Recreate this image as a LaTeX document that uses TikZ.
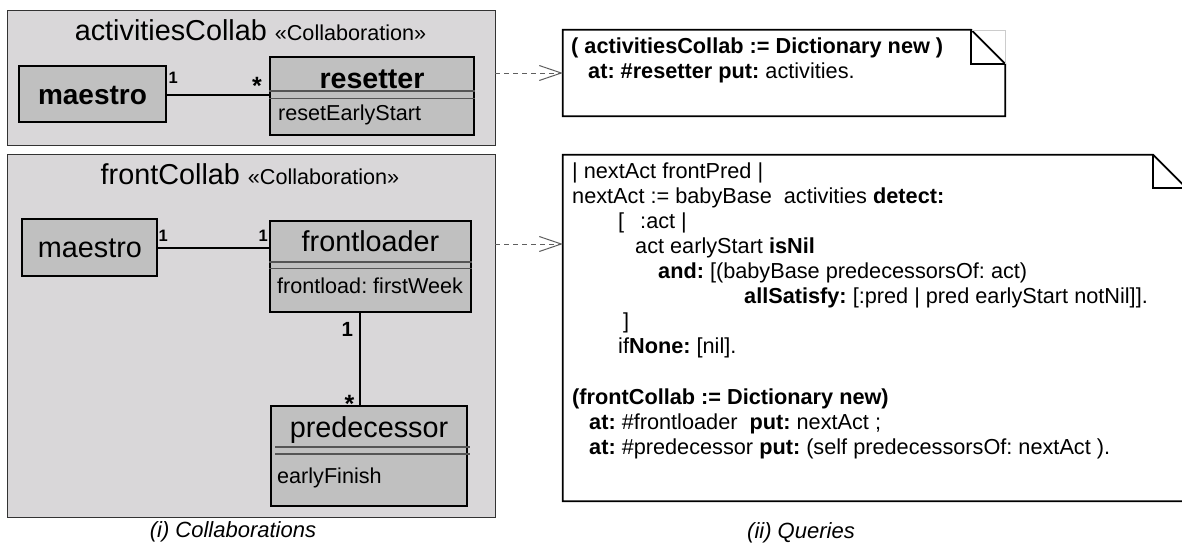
\documentclass[tikz,border=0pt]{standalone}
\usepackage{fontspec}
\setmainfont{Liberation Sans}
\usetikzlibrary{arrows.meta,calc}
\definecolor{collabbg}{RGB}{217,215,217}
\definecolor{classbg}{RGB}{192,192,192}
\definecolor{sepgray}{RGB}{85,85,85}
\definecolor{dashgray}{RGB}{95,95,95}
\newcommand{\fsz}[1]{\fontsize{#1}{#1}\selectfont}
\frenchspacing
\begin{document}
\begin{tikzpicture}[x=1pt,y=-1pt,
  collab/.style={draw=black!80, fill=collabbg, line width=0.9pt, inner sep=0pt, rectangle},
  cls/.style={draw=black, fill=classbg, line width=1.8pt, inner sep=0pt, rectangle},
  sepline/.style={draw=sepgray, line width=1.1pt},
  assoc/.style={draw=black, line width=1.8pt},
  notebox/.style={draw=black, fill=white, line width=1.8pt},
  notefold/.style={draw=black, line width=1.8pt},
  dep/.style={draw=dashgray, line width=1pt, dash pattern=on 5pt off 4pt, -{Straight Barb[length=22pt, width=15pt, line width=1pt]}},
  txt/.style={inner sep=0pt, anchor=base west},
  ctxt/.style={inner sep=0pt, anchor=base},
  nametxt/.style={ctxt, font=\fsz{28.8}},
  attrtxt/.style={txt, font=\fsz{21.6}},
  multtxt/.style={txt, font=\fsz{16.5}\bfseries},
  startxt/.style={txt, font=\fsz{25}\bfseries},
  notetxt/.style={txt, font=\fsz{21.7}},
  captxt/.style={ctxt, font=\fsz{22}\itshape}]
\clip (0,0) rectangle (1182,544);
\fill[white] (0,0) rectangle (1182,544);

% ---------- collaborations ----------
\node[collab, minimum width=488pt, minimum height=135pt] (c1) at (251,77.5) {};
\node[collab, minimum width=488pt, minimum height=363pt] (c2) at (251,335.5) {};

\node[ctxt] (t1) at (250.5,40) {{\fsz{28.8}activitiesCollab }{\fsz{21.6}«Collaboration»}};
\node[ctxt] (t2) at (250,184) {{\fsz{28.8}frontCollab }{\fsz{21.6}«Collaboration»}};

% top collaboration
\node[cls, minimum width=147pt, minimum height=56pt] (m1) at (92.5,94) {};
\node[cls, minimum width=204pt, minimum height=78pt] (r1) at (372,96) {};
\draw[sepline] (r1.west |- 0,91) -- (r1.east |- 0,91);
\draw[sepline] (r1.west |- 0,98.3) -- (r1.east |- 0,98.3);
\node[nametxt, font=\fsz{28}\bfseries] (m1t) at (92.5,104) {maestro};
\node[nametxt, font=\fsz{28.6}\bfseries] (r1t) at (372,88) {resetter};
\node[attrtxt] (r1a) at (278,120) {resetEarlyStart};
\draw[assoc] (m1.east |- 0,95) -- (r1.west |- 0,95);
\node[multtxt] (mu1) at (168.5,83.3) {1};
\node[startxt] (mu2) at (252,94.8) {*};

% bottom collaboration
\node[cls, minimum width=135pt, minimum height=57pt] (m2) at (89.5,247.5) {};
\node[cls, minimum width=201pt, minimum height=91pt] (fl) at (370.5,266.5) {};
\node[cls, minimum width=196pt, minimum height=100pt] (pd) at (369,456) {};
\draw[sepline] (fl.west |- 0,262) -- (fl.east |- 0,262);
\draw[sepline] (fl.west |- 0,268.5) -- (fl.east |- 0,268.5);
\draw[sepline] (275,447) -- (470,447);
\draw[sepline] (275,454) -- (470,454);
\node[nametxt] (m2t) at (90,257) {maestro};
\node[nametxt] (flt) at (370.5,251) {frontloader};
\node[attrtxt] (fla) at (277,293) {frontload: firstWeek};
\node[nametxt] (pdt) at (369,437.5) {predecessor};
\node[attrtxt] (pda) at (277,483) {earlyFinish};
\draw[assoc] (m2.east |- 0,248) -- (fl.west |- 0,248);
\draw[assoc] (fl.south -| 360,0) -- (pd.north -| 360,0);
\node[multtxt] (mu3) at (158.5,241.7) {1};
\node[multtxt] (mu4) at (258.3,241.7) {1};
\node[multtxt, font=\fsz{20.5}\bfseries] (mu5) at (341.5,336.7) {1};
\node[startxt] (mu6) at (344.5,412.5) {*};

% ---------- notes ----------
\node[inner sep=0pt, minimum width=442pt, minimum height=86pt] (n1) at (784,73) {};
\draw[notebox] (n1.north west) -- ($(n1.north east)+(-34,0)$) -- ($(n1.north east)+(0,34)$) -- (n1.south east) -- (n1.south west) -- cycle;
\draw[black!20, line width=0.6pt] ($(n1.north east)+(-34,0)$) -- (n1.north east) -- ($(n1.north east)+(0,34)$);
\draw[notefold] ($(n1.north east)+(-34,0)$) |- ($(n1.north east)+(0,34)$);

\node[inner sep=0pt, minimum width=623pt, minimum height=346pt] (n2) at (874.5,328) {};
\draw[notebox] (n2.north west) -- ($(n2.north east)+(-33,0)$) -- ($(n2.north east)+(0,33)$) -- (n2.south east) -- (n2.south west) -- cycle;
\draw[notefold] ($(n2.north east)+(-33,0)$) |- ($(n2.north east)+(0,33)$);

% note texts
\node[notetxt] (q1a) at (571,53) {\textbf{( activitiesCollab := Dictionary new )}};
\node[notetxt] (q1b) at (588,78) {\textbf{at: \#resetter put:} activities.};

\node[notetxt] (q2a) at (572,178) {| nextAct frontPred |};
\node[notetxt] (q2b) at (572,203) {nextAct := babyBase\ \ activities \textbf{detect:}};
\node[notetxt] (q2c) at (618,228.2) {[\hspace{16pt}:act |};
\node[notetxt] (q2d) at (635,253.3) {act earlyStart \textbf{isNil}};
\node[notetxt] (q2e) at (658,278.4) {\textbf{and:} [(babyBase predecessorsOf: act)};
\node[notetxt] (q2f) at (744,303.5) {\textbf{allSatisfy:} [:pred | pred earlyStart notNil]].};
\node[notetxt] (q2g) at (623,328.6) {]};
\node[notetxt] (q2h) at (618,353.7) {if\textbf{None:} [nil].};
\node[notetxt] (q2i) at (572,404) {\textbf{(frontCollab := Dictionary new)}};
\node[notetxt] (q2j) at (589,429) {\textbf{at:} \#frontloader\ \ \textbf{put:} nextAct ;};
\node[notetxt] (q2k) at (589,454) {\textbf{at:} \#predecessor \textbf{put:} (self predecessorsOf: nextAct ).};

% dependencies
\coordinate (a2) at (563,244);
\draw[dep] (c1.east |- n1.west) -- (n1.west);
\draw[dep] (c2.east |- a2) -- (n2.west |- a2);

% captions
\node[captxt] (cap1) at (233,537) {(i) Collaborations};
\node[captxt] (cap2) at (801,538) {(ii) Queries};
\end{tikzpicture}
\end{document}
